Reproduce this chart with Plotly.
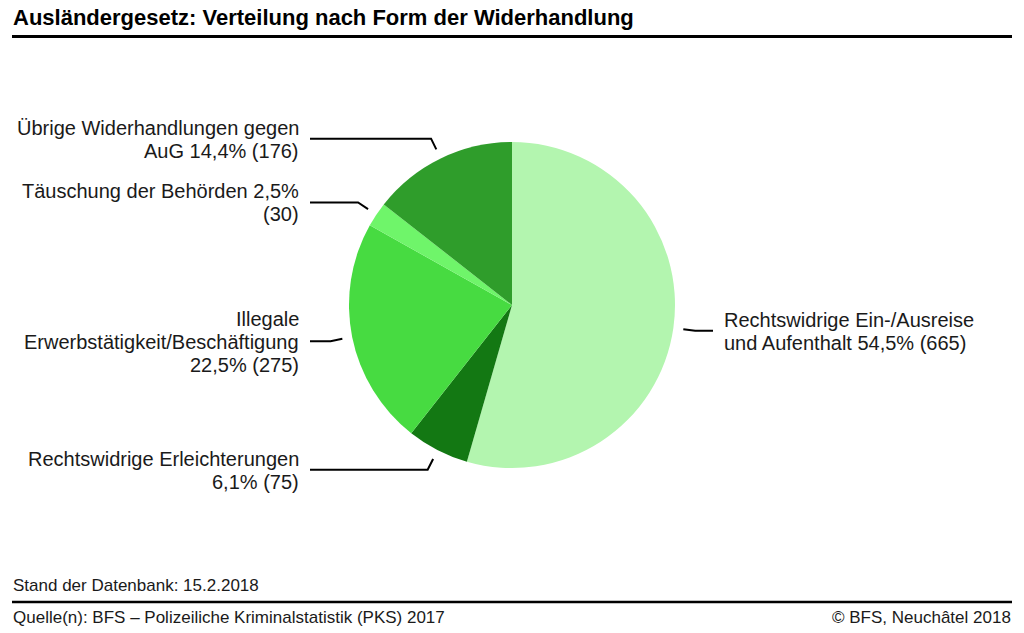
import math
import plotly.graph_objects as go

# ---- data ----
categories = [
    "Rechtswidrige Ein-/Ausreise und Aufenthalt",
    "Rechtswidrige Erleichterungen",
    "Illegale Erwerbstätigkeit/Beschäftigung",
    "Täuschung der Behörden",
    "Übrige Widerhandlungen gegen AuG",
]
counts = [665, 75, 275, 30, 176]
# label text parts ("|" marks a line break)
label_names = [
    "Rechtswidrige Ein-/Ausreise|und Aufenthalt",
    "Rechtswidrige Erleichterungen",
    "Illegale|Erwerbstätigkeit/Beschäftigung",
    "Täuschung der Behörden",
    "Übrige Widerhandlungen gegen|AuG",
]
label_seps = [" ", "|", "|", " ", " "]
label_pct_count_sep = [" ", " ", " ", "|", " "]
colors = ["#b3f5af", "#137813", "#47db41", "#6ff56a", "#2f9d2b"]

title = "Ausländergesetz: Verteilung nach Form der Widerhandlung"
stand = "Stand der Datenbank: 15.2.2018"
source = "Quelle(n): BFS – Polizeiliche Kriminalstatistik (PKS) 2017"
copyright_txt = "© BFS, Neuchâtel 2018"

# ---- layout constants (pixels) ----
W, H = 1024, 633
CX, CY, R = 512, 305, 163
FONT = "Liberation Sans, Arial, sans-serif"
LABEL_SIZE = 20
LINE_H = 23


def px(x):
    return x / W


def py(y):
    return 1 - y / H


fig = go.Figure()
fig.add_trace(go.Pie(
    labels=categories,
    values=counts,
    sort=False,
    direction="clockwise",
    rotation=0,
    marker=dict(colors=colors, line=dict(width=0)),
    textinfo="none",
    hoverinfo="label+value+percent",
    showlegend=False,
    domain=dict(x=[px(CX - R), px(CX + R)], y=[py(CY + R), py(CY - R)]),
))

total = sum(counts)
shapes = []
annotations = []
cum = 0
for i, v in enumerate(counts):
    mid = (cum + v / 2) / total
    cum += v
    ang = 2 * math.pi * mid
    sx, sy = math.sin(ang), -math.cos(ang)
    x1, y1 = CX + (R + 10) * sx, CY + (R + 10) * sy
    x2, y2 = CX + (R + 22) * sx, CY + (R + 22) * sy
    left = sx < 0
    x3 = 310 if left else 713
    path = f"M {px(x1)},{py(y1)} L {px(x2)},{py(y2)} L {px(x3)},{py(y2)}"
    shapes.append(dict(type="path", xref="paper", yref="paper", path=path,
                       line=dict(color="black", width=2)))
    pct = f"{100 * v / total:.1f}".replace(".", ",")
    text = f"{label_names[i]}{label_seps[i]}{pct}%{label_pct_count_sep[i]}({v})"
    lines = text.split("|")
    n = len(lines)
    yc = y2 + 0.5
    for j, ln in enumerate(lines):
        yy = yc + (j - (n - 1) / 2) * LINE_H
        annotations.append(dict(
            x=px(301 if left else 722), y=py(yy), xref="paper", yref="paper",
            text=ln, showarrow=False, xanchor="right" if left else "left",
            yanchor="middle", align="right" if left else "left",
            font=dict(family=FONT, size=LABEL_SIZE, color="#1a1a1a"),
        ))

# title & footer
annotations += [
    dict(x=px(11), y=py(17), xref="paper", yref="paper", text=f"<b>{title}</b>",
         showarrow=False, xanchor="left", yanchor="middle",
         font=dict(family=FONT, size=22, color="black")),
    dict(x=px(11), y=py(585), xref="paper", yref="paper", text=stand,
         showarrow=False, xanchor="left", yanchor="middle",
         font=dict(family=FONT, size=17, color="#1a1a1a")),
    dict(x=px(11), y=py(617), xref="paper", yref="paper", text=source,
         showarrow=False, xanchor="left", yanchor="middle",
         font=dict(family=FONT, size=17, color="#1a1a1a")),
    dict(x=px(1013), y=py(617), xref="paper", yref="paper", text=copyright_txt,
         showarrow=False, xanchor="right", yanchor="middle",
         font=dict(family=FONT, size=17, color="#1a1a1a")),
]
shapes += [
    dict(type="line", xref="paper", yref="paper", x0=px(12), x1=px(1012),
         y0=py(36.5), y1=py(36.5), line=dict(color="black", width=3)),
    dict(type="line", xref="paper", yref="paper", x0=px(12), x1=px(1012),
         y0=py(602), y1=py(602), line=dict(color="black", width=2.5)),
]

fig.update_layout(
    width=W, height=H,
    margin=dict(l=0, r=0, t=0, b=0),
    paper_bgcolor="white", plot_bgcolor="white",
    shapes=shapes, annotations=annotations,
)
fig.write_html("out.html", config={"displayModeBar": False},
               post_script="document.body.style.margin='0';")
